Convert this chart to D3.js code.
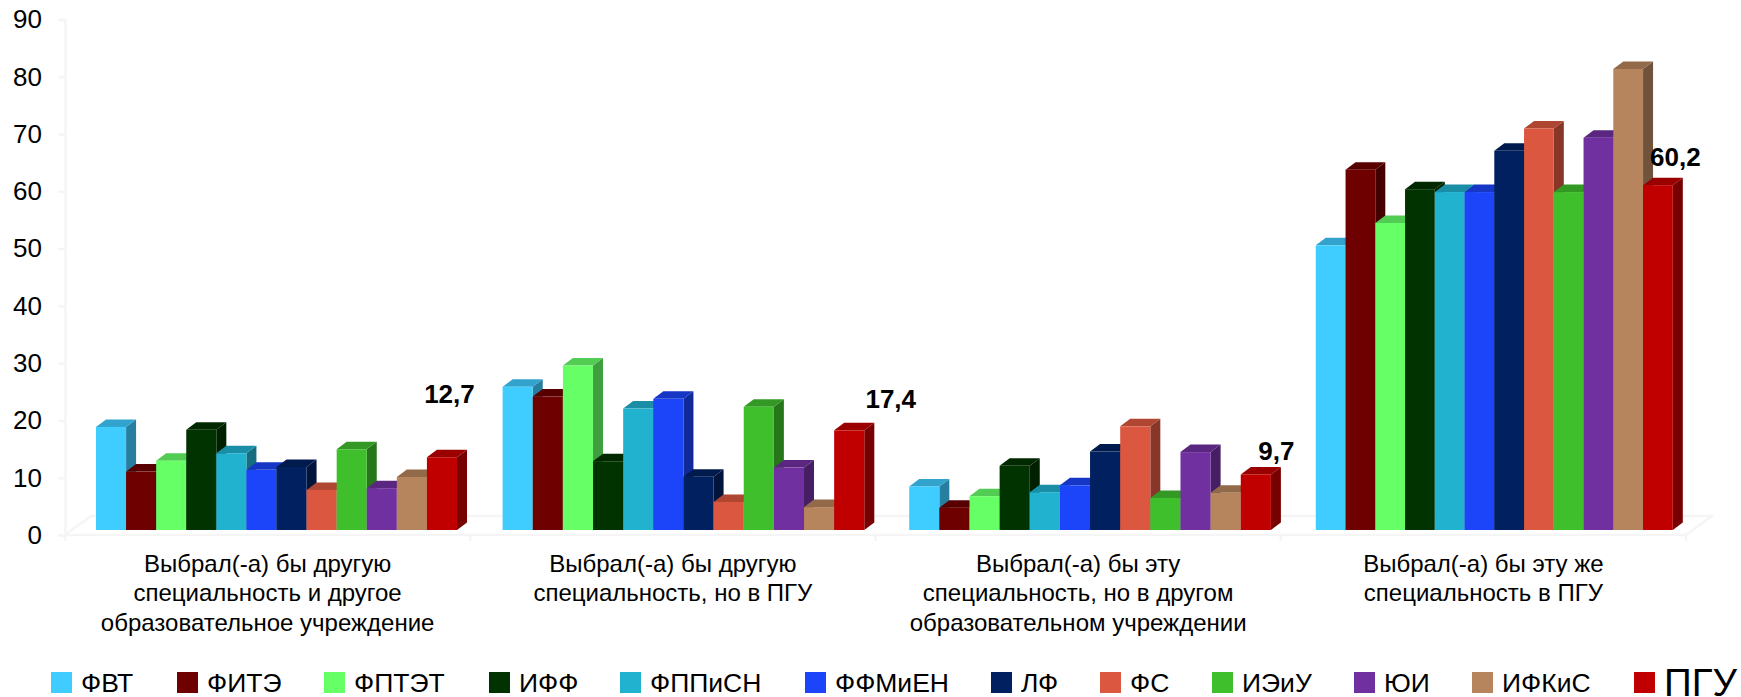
<!DOCTYPE html>
<html><head><meta charset="utf-8">
<script src="https://cdn.jsdelivr.net/npm/d3@7"></script>
<style>html,body{margin:0;padding:0;background:#fff;overflow:hidden}svg{display:block}text{font-family:"Liberation Sans",Arial,sans-serif;fill:#000}</style>
</head><body><div id="chart"></div>
<script>
const categories = [
  ["Выбрал(-а) бы другую","специальность и другое","образовательное учреждение"],
  ["Выбрал(-а) бы другую","специальность, но в ПГУ"],
  ["Выбрал(-а) бы эту","специальность, но в другом","образовательном учреждении"],
  ["Выбрал(-а) бы эту же","специальность в ПГУ"]
];
const seriesNames = ["ФВТ","ФИТЭ","ФПТЭТ","ИФФ","ФППиСН","ФФМиЕН","ЛФ","ФС","ИЭиУ","ЮИ","ИФКиС","ПГУ"];
const seriesColors = ["#3FCCFF","#6E0000","#66FF66","#003300","#20B2CF","#1C44F8","#002060","#DB573F","#40BF2D","#7030A0","#B6855D","#C00000"];
const group1 = [18.0,10.2,12.1,17.5,13.4,10.5,11.0,7.0,14.1,7.3,9.25,12.7];
const group2 = [25.0,23.3,28.7,12.0,21.2,22.9,9.3,4.9,21.5,10.9,4.0,17.4];
const group3 = [7.6,3.9,5.9,11.2,6.6,7.8,13.7,18.1,5.6,13.6,6.5,9.7];
const group4 = [49.7,62.9,53.6,59.5,59.0,59.0,66.2,70.1,59.0,68.5,80.5,60.2];
const groups = [group1,group2,group3,group4];
const yTicks = [0,10,20,30,40,50,60,70,80,90];
const pguLabels = ["12,7","17,4","9,7","60,2"];

const W = 1741, H = 697;
const svg = d3.select("#chart").append("svg").attr("width",W).attr("height",H);
const wall = "#f5f5f5";
const depthX = 10, depthY = 7.5;
const floorDX = 26, floorDY = 19;

const ids = d3.range(categories.length);
const x0 = d3.scaleBand().domain(ids).range([65,1686]);
const xBars = d3.scaleBand().domain(ids).range([96,1722.4]);
const groupWidth = [361,361.7,361.7,357];
const yAxisScale = d3.scaleLinear().domain([0,90]).range([535,19.5]);
const yBar = d3.scaleLinear().domain([0,90]).range([530,14.5]);

// floor + walls
const floor = svg.append("g").attr("fill","none").attr("stroke",wall).attr("stroke-width",2.5);
const fy = yAxisScale(0), fx0 = x0.range()[0], fx1 = x0.range()[1];
floor.append("path").attr("d",`M${fx0},${fy}L${fx0+floorDX},${fy-floorDY}L${fx1+floorDX},${fy-floorDY}L${fx1},${fy}`);
floor.append("path").attr("d",`M58,${fy}L${fx1},${fy}`);
floor.selectAll("line.v").data(ids.concat([ids.length])).join("line")
  .attr("x1",i=>i<ids.length?x0(i):fx1).attr("x2",i=>i<ids.length?x0(i):fx1)
  .attr("y1",fy).attr("y2",fy+6);

// y axis
const yAxis = d3.axisLeft(yAxisScale).tickValues(yTicks).tickSize(7).tickPadding(16).tickFormat(d3.format("d"));
const ga = svg.append("g").attr("transform",`translate(${fx0},0)`).call(yAxis);
ga.selectAll("path,line").attr("stroke",wall).attr("stroke-width",2.5);
ga.selectAll("text").attr("font-size",26).style("font-family",'"Liberation Sans",Arial,sans-serif').attr("fill","#000");

// bars
groups.forEach((vals,g)=>{
  const inner = d3.scaleBand().domain(seriesNames).range([0,groupWidth[g]]);
  const gg = svg.append("g").attr("transform",`translate(${xBars(g)},0)`);
  vals.forEach((v,i)=>{
    const name = seriesNames[i], c = d3.color(seriesColors[i]);
    const xa = inner(name), w = inner.bandwidth(), b = yBar(0), t = yBar(v);
    const bar = gg.append("g");
    bar.append("path").attr("fill",d3.rgb(c.r*.62,c.g*.62,c.b*.62))
      .attr("d",`M${xa+w},${t}l${depthX},${-depthY}L${xa+w+depthX},${b-depthY}L${xa+w},${b}Z`);
    bar.append("path").attr("fill",d3.rgb(c.r*.8,c.g*.8,c.b*.8))
      .attr("d",`M${xa},${t}l${depthX},${-depthY}h${w}l${-depthX},${depthY}Z`);
    bar.append("rect").attr("x",xa).attr("y",t).attr("width",w).attr("height",b-t).attr("fill",c);
  });
});

// data labels of the last series
const labelDX = [7.5,41.5,20.5,17.5], labelBaseDY = [-54,-22,-14,-19];
pguLabels.forEach((s,g)=>{
  const inner = d3.scaleBand().domain(seriesNames).range([0,groupWidth[g]]);
  svg.append("text").text(s).attr("text-anchor","middle").attr("font-weight","bold").attr("font-size",26)
    .attr("x",xBars(g)+inner("ПГУ")+inner.bandwidth()/2+labelDX[g])
    .attr("y",yBar(groups[g][11])+labelBaseDY[g]);
});

// category labels
const lineY = [572,601,631];
categories.forEach((lines,g)=>{
  const t = svg.append("text").attr("text-anchor","middle").attr("font-size",24);
  lines.forEach((l,i)=>t.append("tspan").attr("x",x0(g)+x0.bandwidth()/2).attr("y",lineY[i]).text(l));
});

// legend
const legendX = [51,177,324,489,620,805,991,1100,1212,1354,1472,1634];
const legend = svg.append("g");
seriesNames.forEach((n,i)=>{
  legend.append("rect").attr("x",legendX[i]).attr("y",672).attr("width",21).attr("height",21).attr("fill",seriesColors[i]);
  legend.append("text").text(n).attr("x",legendX[i]+30).attr("y",n==="ПГУ"?696:692).attr("font-size",n==="ПГУ"?38.5:26.5);
});
</script></body></html>
